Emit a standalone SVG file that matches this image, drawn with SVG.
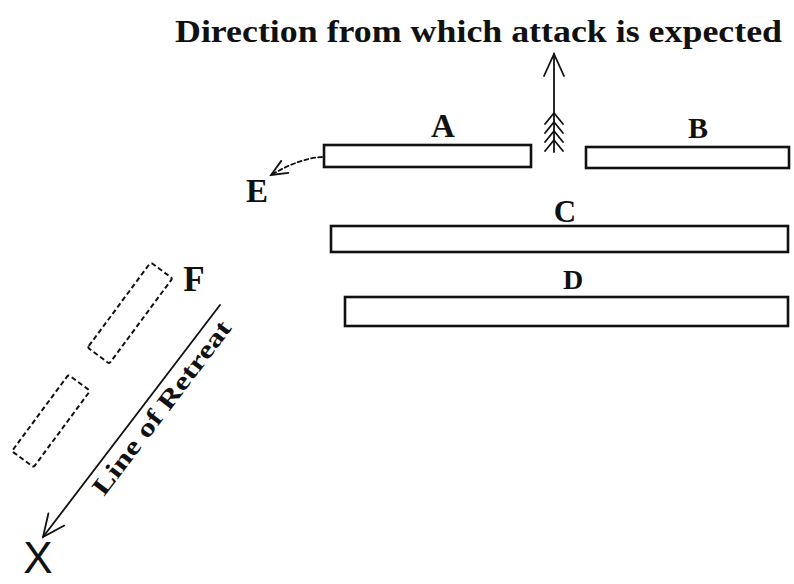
<svg xmlns="http://www.w3.org/2000/svg" width="794" height="584" viewBox="0 0 794 584">
<style>
.lbl{font-family:"Liberation Serif","DejaVu Serif",serif;fill:#111;text-anchor:middle;font-weight:bold;}
.bar{fill:#fff;stroke:#111;stroke-width:2.6;}
.dash{fill:none;stroke:#111;stroke-width:2;stroke-dasharray:5 3;}
.ln{fill:none;stroke:#111;stroke-width:1.8;stroke-linecap:round;stroke-linejoin:round;}
</style>
<defs>
<marker id="open" viewBox="0 0 20 20" refX="18" refY="10" markerWidth="20" markerHeight="20" markerUnits="userSpaceOnUse" orient="auto">
<path d="M2,3 L18,10 L2,17" fill="none" stroke="#111" stroke-width="1.8" stroke-linecap="round"/>
</marker>
<marker id="openBig" viewBox="0 0 26 26" refX="24" refY="13" markerWidth="26" markerHeight="26" markerUnits="userSpaceOnUse" orient="auto">
<path d="M2,3 L24,13 L2,23" fill="none" stroke="#111" stroke-width="1.8" stroke-linecap="round"/>
</marker>
</defs>
<rect width="794" height="584" fill="#fff"/>
<text id="title" class="lbl" x="175" y="42" style="text-anchor:start" font-size="31" textLength="607" lengthAdjust="spacingAndGlyphs">Direction from which attack is expected</text>
<g id="nodeA"><rect class="bar" x="324" y="145" width="207" height="22"/><text class="lbl" x="443" y="137" font-size="33">A</text></g>
<g id="nodeB"><rect class="bar" x="586" y="147" width="203" height="21"/><text class="lbl" x="698" y="138" font-size="30">B</text></g>
<g id="nodeC"><rect class="bar" x="331" y="226" width="457" height="26"/><text class="lbl" x="565" y="222" font-size="31">C</text></g>
<g id="nodeD"><rect class="bar" x="345" y="297" width="443" height="29"/><text class="lbl" x="573" y="289" font-size="28">D</text></g>
<g id="nodeE"><text class="lbl" x="257" y="202" font-size="33">E</text></g>
<g id="nodeF"><rect class="dash" x="-53" y="-13.5" width="106" height="27" rx="2" transform="translate(130,313) rotate(-53.5)"/><text class="lbl" x="194" y="291" font-size="35">F</text></g>
<g id="nodeF2"><rect class="dash" x="-47.5" y="-13.5" width="95" height="27" rx="2" transform="translate(51,421) rotate(-53.5)"/></g>
<g id="nodeX"><text x="38" y="573" font-family="Liberation Sans, Arial, sans-serif" font-size="44" text-anchor="middle" fill="#111">X</text></g>
<g id="connectors">
<line class="ln" x1="554" y1="152" x2="554" y2="54" marker-end="url(#openBig)"/>
<path class="ln" d="M545,124 L554,113 L563,124 M545,133 L554,122 L563,133 M545,142 L554,131 L563,142 M545,151 L554,140 L563,151"/>
<path class="ln" d="M322,157 Q300,158 271,175" stroke-dasharray="4 3" marker-end="url(#open)"/>
<line class="ln" x1="220" y1="305" x2="43" y2="537" marker-end="url(#openBig)"/>
<text class="lbl" font-size="25" style="text-anchor:start" transform="translate(104,497) rotate(-52.7)" textLength="212" lengthAdjust="spacingAndGlyphs">Line of Retreat</text>
</g>
</svg>
